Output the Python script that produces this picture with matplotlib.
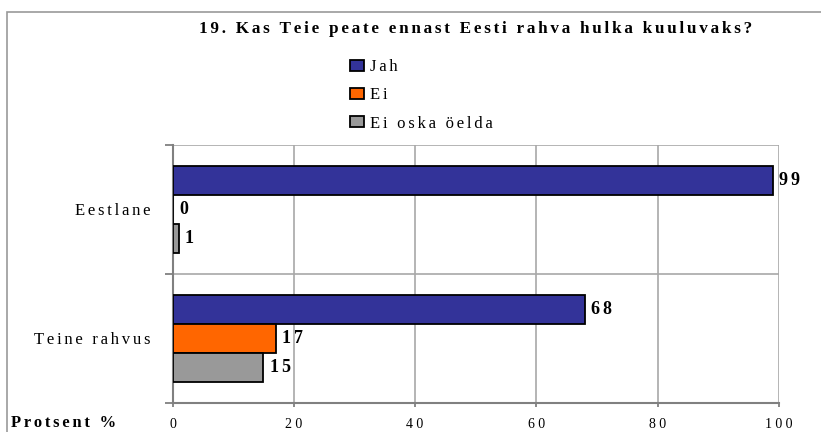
import numpy as np
import matplotlib.pyplot as plt
from matplotlib.patches import Rectangle, Patch

plt.rcParams.update({"font.family": ["Liberation Serif", "DejaVu Serif"]})
plt.rcParams.update({"font.size": 10})


def spaced(s, n=2):
    # hair spaces between letters, for the wide letter spacing of the original
    return ("\u200a" * n).join(s)


categories = ["Eestlane", "Teine rahvus"]
series = ["Jah", "Ei", "Ei oska öelda"]
jah = [99, 68]
ei = [0, 17]
ei_oska = [1, 15]
xticks = [0, 20, 40, 60, 80, 100]

colors = ["#333399", "#FF6600", "#999999"]
values = [jah, ei, ei_oska]

fig = plt.figure(figsize=(8.21, 4.32), dpi=100)
fig.patches.append(
    Rectangle((7 / 821, -0.1), 1.2, 1 - 12 / 432 + 0.1, transform=fig.transFigure,
              fill=False, edgecolor="#999999", linewidth=1.2)
)

ax = fig.add_axes([172.5 / 821, 1 - 403 / 432, 606.5 / 821, 258 / 432])

h = 0.225
centers = np.arange(len(categories)) + 0.497
for i, (name, vals, col) in enumerate(zip(series, values, colors)):
    ypos = centers + (i - 1) * h
    ax.barh(ypos, vals, height=h, color=col, edgecolor="black", linewidth=1.3,
            zorder=3)
    for y, v in zip(ypos, vals):
        ax.annotate(spaced(str(v)), (v, y), xytext=(4.6, 0), textcoords="offset points",
                    va="center", ha="left", fontsize=13, fontweight="bold", zorder=4)

ax.set_xlim(0, 100)
ax.set_ylim(2, 0)
ax.set_xticks(xticks)
ax.set_xticklabels([spaced(str(t), 3) for t in xticks], fontsize=10)
ax.set_yticks([0, 1, 2])
ax.set_yticklabels([])
ax.set_yticks(centers, minor=True)
ax.set_yticklabels([spaced(c) for c in categories], minor=True, fontsize=12)
ax.tick_params(axis="y", which="minor", length=0, pad=15.5)
ax.tick_params(axis="y", which="major", length=5.5, width=1.3, color="#808080")
ax.tick_params(axis="x", length=3, width=1.3, color="#808080", pad=7.5)
ax.grid(True, which="major", color="#a8a8a8", linewidth=1.2, zorder=0)

for s in ["top", "right"]:
    ax.spines[s].set_visible(False)
for s in ["left", "bottom"]:
    ax.spines[s].set_color("#808080")
    ax.spines[s].set_linewidth(1.5)

fig.text(475.5 / 821, 1 - 33 / 432, spaced("19. Kas Teie peate ennast Eesti rahva hulka kuuluvaks?"),
         ha="center", va="baseline", fontsize=12.3, fontweight="bold")
fig.text(11 / 821, 1 - 427 / 432, spaced("Protsent %"), ha="left", va="baseline",
         fontsize=12, fontweight="bold")

handles = [Patch(facecolor=c, edgecolor="black", linewidth=1.3) for c in colors]
fig.legend(handles, [spaced(s) for s in series], loc="upper left",
           bbox_to_anchor=(350 / 821, 1 - 59 / 432), frameon=False, fontsize=12,
           handlelength=0.84, handleheight=0.66, handletextpad=0.36, labelspacing=0.74,
           borderpad=0, borderaxespad=0)

fig.savefig("out.png", dpi=100)
